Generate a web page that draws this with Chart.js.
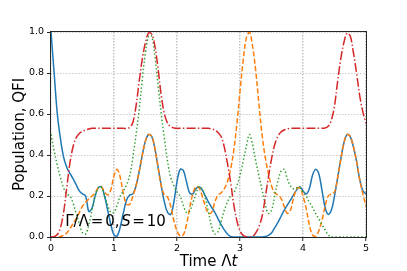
<!DOCTYPE html>
<html>
<head>
<meta charset="utf-8">
<script src="https://cdn.jsdelivr.net/npm/chart.js@4"></script>
<style>
  body { margin: 0; background: #fff; }
  canvas { display: block; }
</style>
</head>
<body>
<canvas id="myChart" width="407" height="271"></canvas>
<script>
// time axis (Λt)
const times = [
  0, 0.05, 0.1, 0.15, 0.2, 0.25, 0.3, 0.35, 0.4, 0.45,
  0.5, 0.55, 0.6, 0.65, 0.7, 0.75, 0.8, 0.85, 0.9, 0.95,
  1, 1.05, 1.1, 1.15, 1.2, 1.25, 1.3, 1.35, 1.4, 1.45,
  1.5, 1.55, 1.6, 1.65, 1.7, 1.75, 1.8, 1.85, 1.9, 1.95,
  2, 2.05, 2.1, 2.15, 2.2, 2.25, 2.3, 2.35, 2.4, 2.45,
  2.5, 2.55, 2.6, 2.65, 2.7, 2.75, 2.8, 2.85, 2.9, 2.95,
  3, 3.05, 3.1, 3.15, 3.2, 3.25, 3.3, 3.35, 3.4, 3.45,
  3.5, 3.55, 3.6, 3.65, 3.7, 3.75, 3.8, 3.85, 3.9, 3.95,
  4, 4.05, 4.1, 4.15, 4.2, 4.25, 4.3, 4.35, 4.4, 4.45,
  4.5, 4.55, 4.6, 4.65, 4.7, 4.75, 4.8, 4.85, 4.9, 4.95,
  5
];

// blue, solid
const popBlue = [
  1.0, 0.80, 0.60, 0.48, 0.39, 0.34, 0.31, 0.285, 0.255, 0.225,
  0.21, 0.20, 0.125, 0.14, 0.20, 0.24, 0.245, 0.20, 0.13, 0.06,
  0.01, 0.005, 0.05, 0.12, 0.18, 0.205, 0.21, 0.25, 0.32, 0.40,
  0.47, 0.50, 0.49, 0.43, 0.34, 0.25, 0.17, 0.12, 0.11, 0.17,
  0.27, 0.33, 0.325, 0.27, 0.215, 0.21, 0.235, 0.245, 0.23, 0.20,
  0.17, 0.145, 0.12, 0.09, 0.06, 0.035, 0.015, 0.003, 0, 0,
  0, 0, 0, 0, 0, 0, 0, 0, 0.002, 0.008,
  0.02, 0.045, 0.07, 0.10, 0.13, 0.155, 0.18, 0.205, 0.23, 0.245,
  0.225, 0.21, 0.235, 0.30, 0.33, 0.31, 0.23, 0.145, 0.11, 0.13,
  0.20, 0.29, 0.38, 0.46, 0.50, 0.49, 0.44, 0.37, 0.28, 0.225,
  0.21
];

// orange, dashed
const popOrange = [
  0, 0, 0, 0.002, 0.008, 0.02, 0.04, 0.065, 0.09, 0.12,
  0.15, 0.17, 0.185, 0.20, 0.215, 0.24, 0.245, 0.22, 0.205, 0.23,
  0.30, 0.33, 0.29, 0.21, 0.16, 0.16, 0.20, 0.25, 0.32, 0.40,
  0.47, 0.50, 0.49, 0.43, 0.34, 0.25, 0.205, 0.195, 0.15, 0.08,
  0.03, 0.005, 0.01, 0.06, 0.14, 0.21, 0.245, 0.24, 0.20, 0.15,
  0.115, 0.12, 0.17, 0.205, 0.215, 0.235, 0.27, 0.33, 0.42, 0.55,
  0.71, 0.86, 0.97, 1.0, 0.93, 0.81, 0.65, 0.50, 0.39, 0.31,
  0.25, 0.215, 0.205, 0.19, 0.15, 0.115, 0.13, 0.19, 0.235, 0.24,
  0.20, 0.14, 0.06, 0.01, 0.003, 0.03, 0.08, 0.15, 0.20, 0.21,
  0.22, 0.29, 0.38, 0.46, 0.50, 0.49, 0.44, 0.37, 0.28, 0.21,
  0.15
];

// green, dotted
const popGreen = [
  0.50, 0.42, 0.35, 0.29, 0.24, 0.21, 0.20, 0.165, 0.115, 0.065,
  0.02, 0.015, 0.06, 0.13, 0.20, 0.24, 0.245, 0.20, 0.155, 0.12,
  0.12, 0.155, 0.20, 0.225, 0.255, 0.30, 0.39, 0.50, 0.62, 0.77,
  0.90, 0.98, 0.98, 0.88, 0.74, 0.60, 0.48, 0.37, 0.29, 0.25,
  0.22, 0.20, 0.155, 0.12, 0.125, 0.165, 0.21, 0.245, 0.235, 0.19,
  0.12, 0.05, 0.015, 0.025, 0.075, 0.13, 0.17, 0.20, 0.215, 0.25,
  0.30, 0.37, 0.44, 0.50, 0.45, 0.37, 0.30, 0.23, 0.16, 0.115,
  0.13, 0.20, 0.27, 0.32, 0.33, 0.285, 0.25, 0.235, 0.24, 0.24,
  0.22, 0.20, 0.17, 0.145, 0.115, 0.09, 0.06, 0.035, 0.01, 0,
  0, 0, 0, 0, 0, 0, 0, 0, 0, 0,
  0
];

// red, dash-dot (QFI)
const qfiRed = [
  0, 0.002, 0.012, 0.045, 0.12, 0.24, 0.36, 0.44, 0.485, 0.505,
  0.515, 0.522, 0.527, 0.53, 0.53, 0.53, 0.53, 0.53, 0.53, 0.53,
  0.53, 0.53, 0.53, 0.53, 0.53, 0.535, 0.56, 0.64, 0.76, 0.87,
  0.95, 0.995, 0.99, 0.93, 0.82, 0.69, 0.60, 0.555, 0.538, 0.532,
  0.53, 0.53, 0.53, 0.53, 0.53, 0.53, 0.53, 0.53, 0.53, 0.53,
  0.53, 0.527, 0.522, 0.51, 0.49, 0.44, 0.36, 0.27, 0.16, 0.08,
  0.03, 0.008, 0.001, 0, 0.003, 0.02, 0.05, 0.10, 0.19, 0.29,
  0.38, 0.45, 0.49, 0.512, 0.522, 0.527, 0.53, 0.53, 0.53, 0.53,
  0.53, 0.53, 0.53, 0.53, 0.53, 0.53, 0.53, 0.532, 0.54, 0.57,
  0.64, 0.76, 0.87, 0.95, 0.995, 0.98, 0.90, 0.80, 0.69, 0.61,
  0.555
];

const xTicks = [0, 1, 2, 3, 4, 5];
const yTicks = [0, 0.2, 0.4, 0.6, 0.8, 1.0];

const toPoints = (vals) => vals.map((v, i) => ({ x: times[i], y: v }));

// frame, annotation and x label (Λ upright, t italic)
const extras = {
  id: "extras",
  afterDatasetsDraw(chart) {
    const { ctx, chartArea: a, scales } = chart;
    ctx.save();
    ctx.strokeStyle = "#262626";
    ctx.lineWidth = 1;
    ctx.strokeRect(Math.round(a.left) - 0.5, Math.round(a.top) - 0.5,
      Math.round(a.right - a.left) + 1, Math.round(a.bottom - a.top) + 1);

    // Γ/Λ = 0, S = 10
    const x0 = scales.x.getPixelForValue(0.25) - 1.5;
    const y0 = scales.y.getPixelForValue(0.055);
    ctx.fillStyle = "#000";
    ctx.textBaseline = "alphabetic";
    ctx.textAlign = "left";
    const parts = [["Γ/Λ", 0, false], ["=", 25.5, false], ["0,", 40, false],
                   ["S", 56, true], ["=", 67, false], ["10", 81.5, false]];
    parts.forEach(([txt, dx, it]) => {
      ctx.font = (it ? "italic " : "") + "15px 'DejaVu Sans'";
      ctx.fillText(txt, x0 + dx, y0);
    });

    // x axis label
    ctx.font = "15px 'DejaVu Sans'";
    const w1 = ctx.measureText("Time Λ").width;
    ctx.font = "italic 15px 'DejaVu Sans'";
    const w2 = ctx.measureText("t").width;
    const cx = (a.left + a.right) / 2;
    const sx = cx - (w1 + w2) / 2;
    ctx.font = "15px 'DejaVu Sans'";
    ctx.fillText("Time Λ", sx, 266);
    ctx.font = "italic 15px 'DejaVu Sans'";
    ctx.fillText("t", sx + w1, 266);
    ctx.restore();
  }
};

const ctx = document.getElementById("myChart").getContext("2d");
const myChart = new Chart(ctx, {
  type: "line",
  data: {
    datasets: [
      { data: toPoints(popBlue), borderColor: "#1f77b4", order: 3 },
      { data: toPoints(popOrange), borderColor: "#ff7f0e", borderDash: [5.2, 2.3], order: 2 },
      { data: toPoints(popGreen), borderColor: "#2ca02c", borderDash: [1.4, 2.3], order: 1 },
      { data: toPoints(qfiRed), borderColor: "#d62728", borderDash: [9, 2.3, 1.4, 2.3], order: 0 },
    ],
  },
  options: {
    responsive: false,
    animation: false,
    devicePixelRatio: 1,
    layout: { padding: { top: 32, right: 41, left: 0, bottom: 0 } },
    elements: {
      point: { radius: 0 },
      line: { borderWidth: 1.5, tension: 0.35, fill: false },
    },
    plugins: { legend: { display: false }, tooltip: { enabled: false } },
    scales: {
      x: {
        type: "linear",
        min: 0,
        max: 5,
        afterBuildTicks: (s) => { s.ticks = xTicks.map((v) => ({ value: v })); },
        afterFit: (s) => { s.height = 34; },
        ticks: { color: "#000", font: { family: "DejaVu Sans", size: 9.5 }, padding: 2, maxRotation: 0 },
        grid: { color: "rgba(175,175,175,0.75)", lineWidth: 1.5, tickColor: "#262626", tickLength: 4, tickWidth: 1 },
        border: { display: false, dash: [1.5, 1.5] },
      },
      y: {
        min: 0,
        max: 1,
        afterBuildTicks: (s) => { s.ticks = yTicks.map((v) => ({ value: v })); },
        afterFit: (s) => { s.width = 51; },
        ticks: {
          color: "#000",
          font: { family: "DejaVu Sans", size: 9.5 },
          padding: 3,
          callback: (v) => Number(v).toFixed(1),
        },
        grid: { color: "rgba(175,175,175,0.8)", lineWidth: 0.8, tickColor: "#262626", tickLength: 4, tickWidth: 1 },
        border: { display: false, dash: [1.5, 1.5] },
        title: {
          display: true,
          text: "Population, QFI",
          color: "#000",
          font: { family: "DejaVu Sans", size: 15 },
          padding: { top: 11, bottom: 0 },
        },
      },
    },
  },
  plugins: [extras],
});
</script>
</body>
</html>
